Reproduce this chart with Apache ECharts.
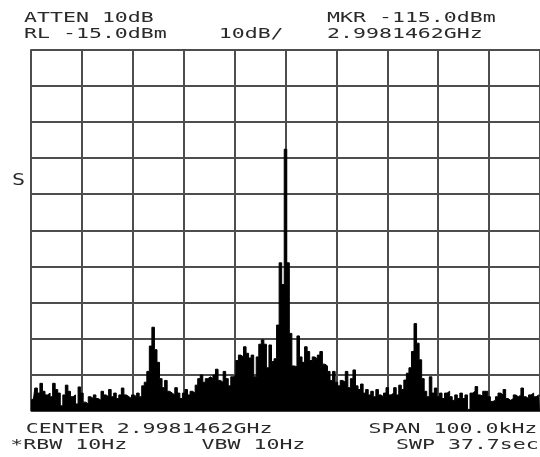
<!DOCTYPE html>
<html><head><meta charset="utf-8">
<script src="https://cdn.jsdelivr.net/npm/echarts@6/dist/echarts.min.js"></script>
<style>html,body{margin:0;padding:0;background:#fff}#c{width:540px;height:457px}</style>
</head><body><div id="c"></div>
<script>
// Sweep: center 2.9981462 GHz, span 100 kHz, offsets in kHz, 0.5 kHz per trace point
const spanStartKHz = -50, spanEndKHz = 50, stepKHz = 0.5;
const refLevel = -15, bottomLevel = -115, dbPerDiv = 10, freqPerDiv = 10;

// Trace levels in dBm, left to right
const traceLeftNoise = [
  -112, -111.5, -108.6, -110, -107.3, -109.5, -110.5, -110, -111, -107.3,
  -109, -110, -113.5, -110.5, -107.8, -109.5, -111, -110.5, -113, -108.3,
  -110, -112.5, -113, -111, -111.5, -110.5, -111.5, -112, -109.5, -110.5,
  -111, -109, -111, -110, -111.5, -110.5, -108.6, -110.5, -111
];
const traceLeftSpur = [
  -111.5, -110.5, -111, -110, -111, -108, -107, -104, -97, -91.8,
  -98, -101.5, -106, -108.5, -106.5, -109.5, -110, -110.5, -108.5, -110,
  -111.5, -110, -109, -110.5, -109.5, -110, -107.8
];
const traceCarrierLeft = [
  -106, -105, -107, -106, -105.5, -106, -105, -103.4, -106.5, -107,
  -104, -106, -108, -105.5, -105, -101, -99.5, -100, -97.2, -99,
  -100.3, -99.5, -105.5, -100, -96.5, -95.3, -96.5, -103, -96.7, -101.3,
  -100.5, -91.2, -74, -80
];
const traceCarrierPeak = [-42.6];
const traceCarrierRight = [
  -74, -93.5, -102.5, -102.7, -94.2, -100, -101.5, -97.2, -98.5, -101,
  -100, -100.5, -99.5, -98.5, -102, -102.5, -104, -106.5, -104, -107,
  -108, -106.5, -107, -104, -108.5, -106, -103.6, -108, -109, -107.5,
  -110, -109, -110.5, -109.5, -111, -109, -110.5, -111, -110, -108.5
];
const traceRightSpur = [
  -110.5, -110, -108.5, -110.5, -107.8, -109, -106.4, -104.5, -103, -98.5,
  -90.8, -96.2, -100.8, -106, -109.5, -111, -105.5, -110, -108.6, -111,
  -110, -111.5, -110, -109.5, -111, -112, -110.5, -111.5, -110, -111.5
];
const traceRightNoise = [
  -110.5, -114.5, -110, -109.5, -108.2, -110.5, -110.8, -109.5, -109.5, -111,
  -112.3, -112, -111, -110, -110.5, -109, -111.5, -112, -111.5, -110.5,
  -111, -110.5, -108.6, -111, -111.5, -110.5, -110, -111, -110.5, -111
];

// Annotation texts
const topLine1 = ['ATTEN 10dB', 'MKR -115.0dBm'];
const topLine2 = ['RL -15.0dBm', '10dB/', '2.9981462GHz'];
const bottomLine1 = ['CENTER 2.9981462GHz', 'SPAN 100.0kHz'];
const bottomLine2 = ['*RBW 10Hz', 'VBW 10Hz', 'SWP 37.7sec'];
const sideMark = 'S';

const levels = [].concat(traceLeftNoise, traceLeftSpur, traceCarrierLeft,
  traceCarrierPeak, traceCarrierRight, traceRightSpur, traceRightNoise);
const points = levels.map((v, i) => [spanStartKHz + i * stepKHz, v]);

const FONT = '"DejaVu Sans Mono", monospace';
function txt(s, x, y, size, sx) {
  return {
    type: 'text', x: x, y: y, scaleX: sx || 1.54, silent: true, z: 100,
    style: { text: s, font: (size || 14) + 'px ' + FONT, fill: '#2a2a2a',
             align: 'left', verticalAlign: 'middle' }
  };
}

const chart = echarts.init(document.getElementById('c'), null, { renderer: 'canvas' });
const gridColor = '#4d4d4d';
chart.setOption({
  animation: false,
  backgroundColor: '#ffffff',
  grid: { left: 31, top: 49.3, width: 515.6, height: 361.9, containLabel: false },
  xAxis: {
    type: 'value', min: spanStartKHz, max: spanEndKHz, interval: freqPerDiv,
    axisLine: { show: false }, axisTick: { show: false }, axisLabel: { show: false },
    splitLine: { show: true, showMinLine: true, showMaxLine: true, lineStyle: { color: gridColor, width: 2 } }
  },
  yAxis: {
    type: 'value', min: bottomLevel, max: refLevel, interval: dbPerDiv,
    axisLine: { show: false }, axisTick: { show: false }, axisLabel: { show: false },
    splitLine: { show: true, showMinLine: true, showMaxLine: true, lineStyle: { color: gridColor, width: 2 } }
  },
  series: [{
    type: 'line', data: points, symbol: 'none', sampling: null, step: 'middle',
    lineStyle: { color: '#000', width: 1 },
    areaStyle: { color: '#000', opacity: 1, origin: 'start' },
    z: 5
  }],
  graphic: [
    txt(topLine1[0], 24, 18.6),
    txt(topLine1[1], 327, 18.6),
    txt(topLine2[0], 24, 34),
    txt(topLine2[1], 218.7, 34),
    txt(topLine2[2], 327, 34),
    txt(bottomLine1[0], 25.8, 429),
    txt(bottomLine1[1], 368.6, 429),
    txt(bottomLine2[0], 10.3, 445.8),
    txt(bottomLine2[1], 201.5, 445.8),
    txt(bottomLine2[2], 396, 445.8),
    txt(sideMark, 12, 181, 15, 1.45)
  ]
});
</script>
</body></html>
